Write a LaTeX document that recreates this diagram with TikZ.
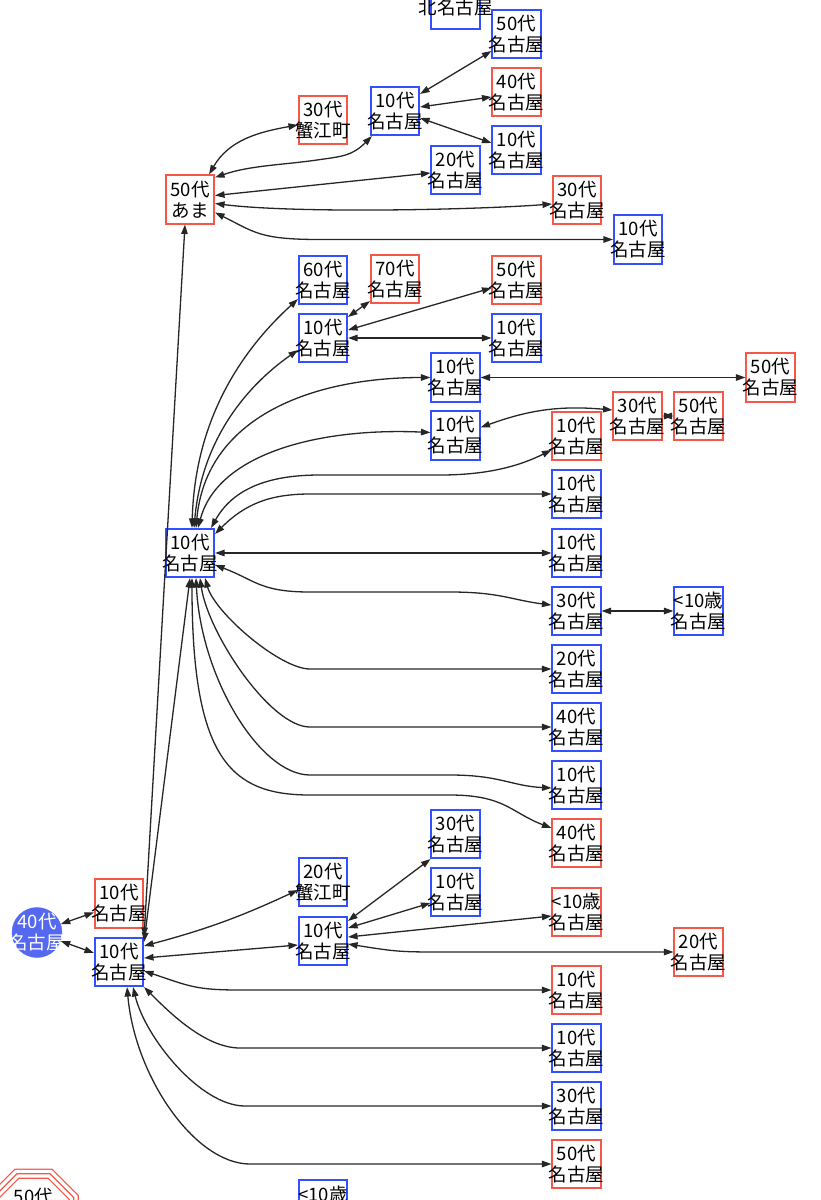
\documentclass[tikz,border=0pt]{standalone}
\usepackage{fontspec}
\setmainfont{Noto Sans CJK JP}
\usepackage{xcolor}
\usetikzlibrary{arrows.meta, shapes.geometric}

\definecolor{mblue}{RGB}{50,80,255}
\definecolor{fred}{RGB}{245,88,72}
\definecolor{cfill}{RGB}{85,105,240}

% two centred lines that may run over the box
\newcommand{\lbl}[2]{\makebox[0pt]{#1}\\\makebox[0pt]{#2}}

\tikzset{
  person/.style={rectangle, draw, line width=1.6pt, minimum width=48.5pt, minimum height=48.5pt,
    inner sep=0pt, align=center, font=\fontsize{18.5}{21}\selectfont},
  bnode/.style={person, draw=mblue},
  rnode/.style={person, draw=fred},
  rootnode/.style={circle, fill=cfill, draw=cfill, minimum size=50pt, inner sep=0pt,
    text=white, align=center, font=\fontsize{18.5}{21}\selectfont},
  octnode/.style={regular polygon, regular polygon sides=8, minimum size=87pt, inner sep=0pt,
    preaction={draw=fred, line width=10.2pt}, preaction={draw=white, line width=7.8pt},
    draw=fred, line width=1.2pt, font=\fontsize{18.5}{21}\selectfont},
  link/.style={<->, >={Triangle[length=9.5pt,width=6.5pt]}, line width=1.3pt, draw=black!85},
}

\begin{document}
\begin{tikzpicture}[x=1pt, y=1pt]
    \useasboundingbox (0,0) rectangle (821,-1200);

    % Blue persons in Nagoya
    \foreach \n/\x/\y/\a in {a50/516.5/-34/50代, a10/516.5/-150/10代, hubA/395/-111/10代,
        a20/455.5/-170/20代, m10/638/-239.5/10代, b60/323/-280/60代, hubB/323/-338/10代,
        b10/516.5/-338/10代, c10a/455.5/-377.5/10代, c10b/455.5/-435.5/10代,
        c10c/576.5/-494/10代, hubC/190/-553/10代, c10d/576.5/-553/10代,
        c30b/576.5/-611/30代, c0/698.5/-611/<10歳, c20/576.5/-669/20代,
        c40/576.5/-727/40代, c10e/576.5/-785/10代, e30/455.5/-834/30代,
        e10/455.5/-892/10代, hubD/119/-962/10代, hubE/323/-941/10代,
        d10b/576.5/-1048/10代, d30/576.5/-1106/30代} {
        \node[bnode] (\n) at (\x,\y) {\lbl{\a}{名古屋}};
    }

    % Red persons in Nagoya
    \foreach \n/\x/\y/\a in {a40/516.5/-92/40代, m30/577/-200/30代, b70/395/-279/70代,
        b50/516.5/-280/50代, c50/770.5/-377.5/50代, c30/637.5/-416/30代,
        c50b/698.5/-416/50代, c10r/576.5/-436/10代, c40r/576.5/-843/40代,
        e0/576.5/-912/<10歳, d10r/119/-903.5/10代, e20/698.5/-952/20代,
        d10a/576.5/-990/10代, d50/576.5/-1164/50代} {
        \node[rnode] (\n) at (\x,\y) {\lbl{\a}{名古屋}};
    }

    % Other places
    \node[bnode] (kita) at (455.5,-5) {\lbl{}{北名古屋}};
    \node[rnode] (kan30) at (323,-120) {\lbl{30代}{蟹江町}};
    \node[rnode] (ama) at (190,-199.5) {\lbl{50代}{あま}};
    \node[bnode] (kan20) at (323,-882) {\lbl{20代}{蟹江町}};
    \node[bnode] (low) at (323,-1204) {\lbl{<10歳}{}};
    \node[rootnode] (root) at (37,-932.5) {\lbl{40代}{名古屋}};
    \node[octnode] (oct) at (33.5,-1214) {\makebox[0pt]{\smash{\raisebox{11pt}{50代}}}};

    % Root
    \draw[link] (root) -- (d10r);
    \draw[link] (root) -- (hubD);

    % Hub D
    \draw[link] (hubD.north east) -- ([xshift=-5pt]ama.south);
    \draw[link] ([yshift=-5pt]hubD.north east) -- (hubC.south);
    \draw[link] ([yshift=4pt]hubD.east) -- ([yshift=-4pt]hubE.west);
    \draw[link] ([yshift=-9pt]hubD.north east) to[out=15,in=205] ([yshift=-8pt]kan20.west);
    \draw[link] ([yshift=-9pt]hubD.east) .. controls +(45,-15) and +(-45,0) .. (240,0 |- d10a.west) -- (d10a.west);
    \draw[link] (hubD.south east) .. controls +(25,-25) and +(-35,0) .. (240,0 |- d10b.west) -- (d10b.west);
    \draw[link] ([xshift=-11pt]hubD.south east) .. controls +(12,-50) and +(-45,0) .. (245,0 |- d30.west) -- (d30.west);
    \draw[link] ([xshift=-17pt]hubD.south east) .. controls +(8,-90) and +(-55,0) .. (250,0 |- d50.west) -- (d50.west);

    % Hub E
    \draw[link] ([yshift=-5pt]hubE.north east) -- (e30.south west);
    \draw[link] ([yshift=-12pt]hubE.north east) -- ([yshift=-11pt]e10.west);
    \draw[link] ([yshift=4pt]hubE.east) -- ([yshift=-4pt]e0.west);
    \draw[link] ([yshift=-3pt]hubE.east) .. controls +(50,-8) and +(-50,0) .. (450,0 |- e20.west) -- (e20.west);

    % Hub C, upper fan
    \draw[link] ([xshift=2pt]hubC.north) .. controls +(3,110) and +(-55,-50) .. ([yshift=6pt]b60.south west);
    \draw[link] ([xshift=4pt]hubC.north) .. controls +(8,90) and +(-50,-35) .. ([yshift=-12pt]hubB.west);
    \draw[link] ([xshift=6pt]hubC.north) .. controls +(10,110) and +(-120,0) .. (c10a.west);
    \draw[link] ([xshift=8pt]hubC.north) .. controls +(20,75) and +(-110,5) .. ([yshift=3pt]c10b.west);
    \draw[link] ([xshift=-4pt]hubC.north east) .. controls +(25,45) and +(-40,0) .. (320,-475) -- (440,-475)
        .. controls +(50,0) and +(-30,-15) .. ([yshift=-14pt]c10r.west);
    \draw[link] ([yshift=-6pt]hubC.north east) .. controls +(30,30) and +(-40,0) .. (310,0 |- c10c.west) -- (c10c.west);
    \draw[link] (hubC.east) -- (c10d.west);
    \draw[link] ([yshift=-12pt]hubC.east) .. controls +(40,-15) and +(-50,0) .. (310,-592) -- (450,-592)
        .. controls +(50,0) and +(-40,5) .. ([yshift=6pt]c30b.west);

    % Hub C, lower fan
    \draw[link] ([xshift=15pt]hubC.south) .. controls +(10,-35) and +(-30,0) .. (310,0 |- c20.west) -- (c20.west);
    \draw[link] ([xshift=10pt]hubC.south) .. controls +(8,-55) and +(-40,0) .. (310,0 |- c40.west) -- (c40.west);
    \draw[link] ([xshift=6pt]hubC.south) .. controls +(5,-100) and +(-50,0) .. (310,-775) -- (450,-775)
        .. controls +(50,0) and +(-40,2) .. ([yshift=-3pt]c10e.west);
    \draw[link] ([xshift=2pt]hubC.south) .. controls +(0,-180) and +(-80,0) .. (310,-795) -- (450,-795)
        .. controls +(55,0) and +(-40,15) .. ([yshift=-10pt]c40r.north west);

    % Ama
    \draw[link] ([xshift=-6pt]ama.north east) to[out=60,in=190] ([yshift=-5pt]kan30.west);
    \draw[link] ([yshift=-3pt]ama.north east) .. controls +(35,12) and +(-35,-5) .. (317,-160)
        .. controls +(25,3.6) and +(-20,-20) .. ([xshift=2pt]hubA.south west);
    \draw[link] ([yshift=4pt]ama.east) -- ([yshift=-3pt]a20.west);
    \draw[link] ([yshift=-4pt]ama.east) .. controls +(80,-10) and +(-80,-6) .. ([yshift=-4pt]m30.west);
    \draw[link] ([yshift=-13pt]ama.east) .. controls +(40,-20) and +(-60,0) .. (320,0 |- m10.west) -- (m10.west);

    % Hub A
    \draw[link] ([yshift=-8pt]hubA.north east) -- ([yshift=8pt]a50.south west);
    \draw[link] ([yshift=4pt]hubA.east) -- ([yshift=-5pt]a40.west);
    \draw[link] ([yshift=-7pt]hubA.east) -- ([yshift=7pt]a10.west);

    % Hub B
    \draw[link] ([yshift=-4pt]hubB.north east) -- ([yshift=3pt]b70.south west);
    \draw[link] ([yshift=8pt]hubB.east) -- ([yshift=-8pt]b50.west);
    \draw[link] (hubB.east) -- (b10.west);

    % Outer pairs
    \draw[link] (c10a.east) -- (c50.west);
    \draw[link] ([yshift=8pt]c10b.east) to[out=20,in=175] ([yshift=6pt]c30.west);
    \draw[link] (c30.east) -- (c50b.west);
    \draw[link] (c30b.east) -- (c0.west);
\end{tikzpicture}
\end{document}
